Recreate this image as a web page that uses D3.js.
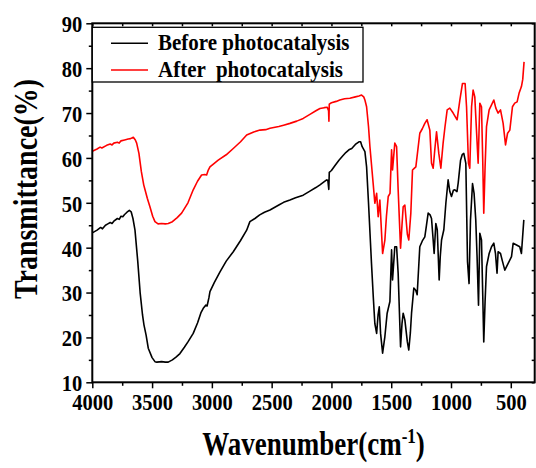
<!DOCTYPE html>
<html><head><meta charset="utf-8">
<script src="https://cdn.jsdelivr.net/npm/d3@7"></script>
<style>body{margin:0;background:#fff}</style>
</head><body>
<svg id="chart" width="536" height="468"></svg>
<script>
// FTIR spectra: [wavenumber (cm-1), transmittance (%)]
const beforeSpectrum = [
  [4000,43.3],[3960,43.9],[3930,44.5],[3915,44.2],[3890,45.0],[3870,45.3],[3850,45.6],[3835,45.4],[3820,45.9],
  [3790,46.5],[3775,46.3],[3760,47.0],[3745,46.9],[3730,47.4],[3710,47.9],[3690,48.3],[3675,48.0],[3660,46.5],
  [3643,43.9],[3620,37],[3600,30],[3580,25],[3568,22.8],[3550,20.5],[3532,17.6],[3500,15.5],[3476,14.6],
  [3460,14.5],[3420,14.6],[3390,14.5],[3365,14.5],[3330,15.0],[3300,15.6],[3267,16.4],[3230,17.8],[3200,19.0],
  [3156,20.9],[3120,23.2],[3090,25.6],[3072,26.5],[3050,27.2],[3040,27.0],[3025,28.8],[3016,30.2],[2980,32.2],
  [2932,34.6],[2880,37.0],[2821,39.1],[2760,41.6],[2709,43.9],[2682,45.8],[2640,46.5],[2600,47.3],[2560,47.9],
  [2514,48.4],[2440,49.5],[2400,50.1],[2347,50.6],[2300,51.1],[2236,51.7],[2180,52.6],[2130,53.4],[2096,54.0],
  [2060,54.7],[2040,55.1],[2030,55.0],[2022,53.0],[2018,56.8],[2000,57.2],[1970,58.3],[1937,59.5],[1910,60.3],
  [1880,61.2],[1854,61.8],[1830,62.1],[1800,63.0],[1770,63.6],[1756,63.6],[1743,62.5],[1720,61.4],[1706,58],
  [1690,50],[1665,36.5],[1650,29],[1637,23.1],[1622,20.9],[1610,25],[1600,26.8],[1589,20.9],[1572,16.5],
  [1553,20.2],[1534,25.4],[1511,28],[1497,39.5],[1489,32.8],[1470,40.2],[1455,40.2],[1442,34.3],[1422,17.9],
  [1410,23],[1400,25.4],[1386,23.9],[1365,19],[1353,17.2],[1340,21],[1330,25.4],[1311,31.0],[1295,30.5],
  [1283,29.5],[1261,40.2],[1240,41.5],[1219,42.4],[1205,45],[1191,47.7],[1175,47.3],[1163,46.5],[1150,42],
  [1141,38.7],[1127,45.4],[1115,44],[1099,32.8],[1090,38],[1079,41.7],[1060,44],[1043,49.9],[1024,55.1],
  [1010,52.5],[996,51.4],[980,52.8],[968,52.9],[950,52.5],[940,54.4],[920,59.5],[905,60.8],[893,61.0],
  [876,58.8],[862,36.9],[849,32.0],[837,46.2],[820,54.3],[807,52.1],[793,46.2],[782,38.0],[770,27.2],
  [759,43.2],[745,41.7],[735,30],[726,19.0],[715,28],[703,35.8],[681,38.7],[661,40.2],[642,41.0],[628,38.7],
  [615,34.3],[606,39.1],[586,38.7],[570,37],[550,35.0],[522,36.5],[494,38.0],[480,41.0],[452,40.6],[425,40.2],
  [411,38.7],[391,46.2]
];
const afterSpectrum = [
  [4000,61.5],[3960,62.0],[3935,62.4],[3920,62.2],[3880,62.8],[3850,63.1],[3835,62.9],[3820,63.3],[3790,63.5],
  [3775,63.3],[3760,63.8],[3730,64.0],[3700,64.2],[3680,64.3],[3657,64.6],[3640,64.0],[3629,63.3],[3610,61],
  [3590,57],[3570,54],[3559,52.9],[3540,51],[3518,49.1],[3495,47],[3476,45.8],[3450,45.3],[3420,45.4],
  [3390,45.3],[3365,45.4],[3330,45.8],[3290,46.7],[3253,47.7],[3200,50.0],[3156,52.9],[3120,54.8],[3086,56.2],
  [3060,56.3],[3044,56.2],[3030,57.3],[3016,58.0],[2980,58.8],[2947,59.5],[2880,60.7],[2821,62.1],[2760,63.6],
  [2709,65.1],[2650,65.8],[2598,66.2],[2550,66.3],[2514,66.6],[2440,67.0],[2400,67.3],[2347,67.7],[2290,68.2],
  [2236,68.8],[2180,69.7],[2130,70.5],[2096,71.0],[2060,71.2],[2035,71.3],[2024,70.5],[2021,68.2],[2018,72.0],
  [2000,72.3],[1960,72.6],[1930,72.9],[1890,73.2],[1846,73.3],[1800,73.6],[1770,73.8],[1748,74.0],[1730,73.6],
  [1720,72.9],[1706,71.4],[1690,67],[1678,62.5],[1651,54.3],[1637,49.9],[1622,52.1],[1609,46.9],[1595,50.6],
  [1572,38.7],[1553,41.7],[1540,47],[1525,51.4],[1510,52.1],[1497,61.8],[1489,57.3],[1470,63.3],[1455,62.5],
  [1442,52.9],[1422,39.9],[1410,45],[1400,49.1],[1386,49.5],[1365,43],[1353,41.7],[1336,47.7],[1322,57.3],
  [1310,57.6],[1294,58.0],[1261,65.5],[1240,66.5],[1219,67.7],[1200,68.5],[1177,66.2],[1163,58.8],[1149,57.7],
  [1135,62],[1121,65.8],[1102,61.0],[1085,57.7],[1066,63.3],[1050,67],[1032,70.7],[1010,71.1],[982,70.0],
  [960,69],[949,68.5],[926,72.9],[904,76.6],[882,76.6],[870,71.4],[854,58.8],[843,57.7],[828,71.4],[815,75.1],
  [801,73.6],[787,66.2],[773,58.8],[759,72.2],[745,71.4],[735,60],[726,47.7],[715,58],[703,67.0],[681,70.7],
  [661,71.8],[642,72.9],[625,71.1],[606,70.0],[586,70.7],[564,67.7],[544,62.9],[527,65.5],[508,66.2],
  [486,71.4],[467,72.2],[447,72.5],[431,74.4],[411,75.9],[400,77.5],[389,81.4]
];
const seriesNames = ["Before photocatalysis", "After  photocatalysis"];
const seriesColors = ["#000000", "#ff0000"];
const xTicks = [4000, 3500, 3000, 2500, 2000, 1500, 1000, 500];
const xMinorTicks = [3750, 3250, 2750, 2250, 1750, 1250, 750];
const yTicks = [10, 20, 30, 40, 50, 60, 70, 80, 90];
const yMinorTicks = [15, 25, 35, 45, 55, 65, 75, 85];

const FONT = "'Liberation Serif','Times New Roman',Times,serif";
const svg = d3.select("#chart");
const x = d3.scaleLinear().domain([4000, 300]).range([92.3, 534.7]);
const y = d3.scaleLinear().domain([10, 90]).range([382.3, 23.3]);
const [x0, x1] = x.range();
const [y0, y1] = y.range();
const fmt = d3.format("d");

// tick marks
function styleAxis(g) {
  g.select(".domain").remove();
  g.selectAll(".tick line").attr("stroke", "#000").attr("stroke-width", 1.5);
}
svg.append("g").attr("transform", `translate(0,${y0})`)
  .call(d3.axisBottom(x).tickValues(xTicks).tickSize(6).tickPadding(0).tickFormat(fmt))
  .call(styleAxis)
  .call(g => g.selectAll(".tick text")
    .attr("y", 0).attr("dy", "0.35em")
    .attr("transform", "translate(0,19.8) scale(1,1.17)")
    .attr("font-family", FONT).attr("font-weight", "bold")
    .attr("font-size", 20.5).attr("fill", "#000"));
svg.append("g").attr("transform", `translate(0,${y0})`)
  .call(d3.axisBottom(x).tickValues(xMinorTicks).tickSize(3.5).tickFormat(""))
  .call(styleAxis);
svg.append("g").attr("transform", `translate(${x0},0)`)
  .call(d3.axisLeft(y).tickValues(yTicks).tickSize(6).tickPadding(0).tickFormat(fmt))
  .call(styleAxis)
  .call(g => g.selectAll(".tick text")
    .attr("x", 0).attr("dy", "0.35em")
    .attr("transform", "translate(-10,0) scale(1,1.17)")
    .attr("font-family", FONT).attr("font-weight", "bold")
    .attr("font-size", 20.5).attr("fill", "#000"));
svg.append("g").attr("transform", `translate(${x0},0)`)
  .call(d3.axisLeft(y).tickValues(yMinorTicks).tickSize(3.5).tickFormat(""))
  .call(styleAxis);
// mirrored inner ticks on top and right
svg.append("g").attr("transform", `translate(0,${y1})`)
  .call(d3.axisTop(x).tickValues(xTicks.concat(xMinorTicks)).tickSize(-3).tickFormat(""))
  .call(styleAxis);
svg.append("g").attr("transform", `translate(${x1},0)`)
  .call(d3.axisRight(y).tickValues(yTicks.concat(yMinorTicks)).tickSize(-3).tickFormat(""))
  .call(styleAxis);

// spectra
const line = d3.line().x(d => x(d[0])).y(d => y(d[1]));
[beforeSpectrum, afterSpectrum].forEach((data, i) => {
  svg.append("path").datum(data)
    .attr("d", line)
    .attr("fill", "none")
    .attr("stroke", seriesColors[i])
    .attr("stroke-width", 1.6)
    .attr("stroke-linejoin", "round");
});

// frame
svg.append("rect")
  .attr("x", x0).attr("y", y1)
  .attr("width", x1 - x0).attr("height", y0 - y1)
  .attr("fill", "none").attr("stroke", "#000").attr("stroke-width", 2);

// legend
const legend = svg.append("g");
legend.append("rect")
  .attr("x", 92.3).attr("y", 27.3).attr("width", 270.7).attr("height", 54.7)
  .attr("fill", "#fff").attr("stroke", "#000").attr("stroke-width", 1.3);
seriesNames.forEach((name, i) => {
  const ly = 43.3 + i * 26.7;
  legend.append("line")
    .attr("x1", 111).attr("x2", 148).attr("y1", ly).attr("y2", ly)
    .attr("stroke", seriesColors[i]).attr("stroke-width", 1.6);
  legend.append("text")
    .attr("transform", `translate(158,${ly + 6.8}) scale(1,1.08)`)
    .attr("font-family", FONT).attr("font-weight", "bold").attr("font-size", 21)
    .style("white-space", "pre")
    .text(name);
});

// axis titles
const xt = svg.append("text")
  .attr("transform", `translate(${(x0 + x1) / 2},455) scale(1,1.22)`)
  .attr("text-anchor", "middle")
  .attr("font-family", FONT).attr("font-weight", "bold").attr("font-size", 27);
xt.append("tspan").text("Wavenumber(cm");
xt.append("tspan").attr("font-size", 17).attr("dy", -10).text("-1");
xt.append("tspan").attr("dy", 10).text(")");

svg.append("text")
  .attr("transform", "translate(37,189) rotate(-90) scale(1,1.18)")
  .attr("text-anchor", "middle")
  .attr("font-family", FONT).attr("font-weight", "bold").attr("font-size", 28)
  .text("Transmittance(%)");
</script>
</body></html>
